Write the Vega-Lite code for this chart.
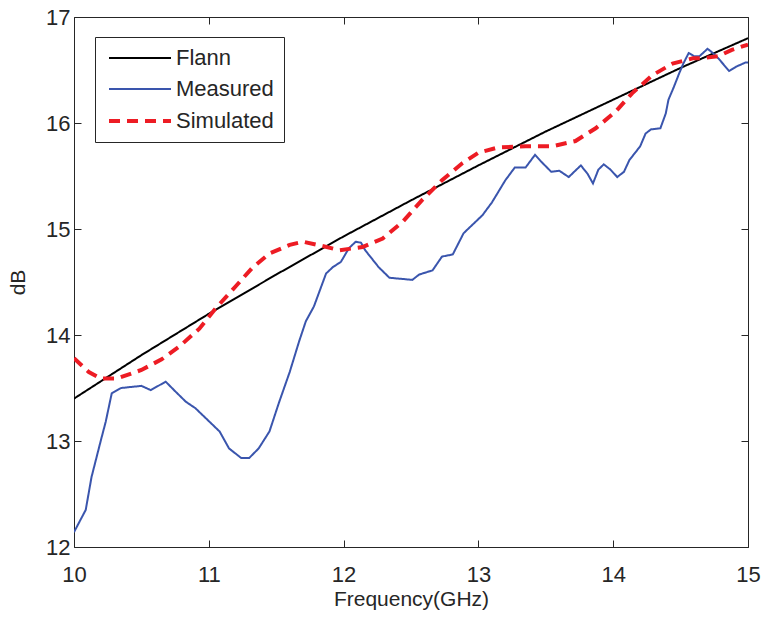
{
  "$schema": "https://vega.github.io/schema/vega-lite/v6.json",
  "autosize": "none",
  "width": 674,
  "height": 530,
  "padding": {"left": 74, "top": 17, "right": 17, "bottom": 76},
  "background": "white",
  "config": {
    "view": {"stroke": "#262626", "strokeWidth": 1},
    "font": "Liberation Sans",
    "axis": {
      "grid": false, "domain": false, "tickColor": "#262626", "tickSize": -7, "labelFlush": false,
      "labelColor": "#262626", "labelFont": "Liberation Sans", "labelFontSize": 22,
      "titleColor": "#262626", "titleFont": "Liberation Sans", "titleFontSize": 21, "titleFontWeight": "normal"
    }
  },
  "data": {
    "values": [
      {"series": "Flann", "f": 10.0, "v": 13.40}, {"series": "Flann", "f": 10.5, "v": 13.81}, {"series": "Flann", "f": 11.0, "v": 14.20}, {"series": "Flann", "f": 11.5, "v": 14.57},
      {"series": "Flann", "f": 12.0, "v": 14.93}, {"series": "Flann", "f": 12.5, "v": 15.27}, {"series": "Flann", "f": 13.0, "v": 15.60}, {"series": "Flann", "f": 13.5, "v": 15.92},
      {"series": "Flann", "f": 14.0, "v": 16.22}, {"series": "Flann", "f": 14.5, "v": 16.52}, {"series": "Flann", "f": 15.0, "v": 16.80},
      {"series": "Measured", "f": 10.0, "v": 12.14}, {"series": "Measured", "f": 10.087, "v": 12.35}, {"series": "Measured", "f": 10.13, "v": 12.66}, {"series": "Measured", "f": 10.2, "v": 13.01},
      {"series": "Measured", "f": 10.235, "v": 13.18}, {"series": "Measured", "f": 10.28, "v": 13.45}, {"series": "Measured", "f": 10.35, "v": 13.5}, {"series": "Measured", "f": 10.5, "v": 13.52},
      {"series": "Measured", "f": 10.57, "v": 13.48}, {"series": "Measured", "f": 10.68, "v": 13.56}, {"series": "Measured", "f": 10.75, "v": 13.47}, {"series": "Measured", "f": 10.83, "v": 13.37},
      {"series": "Measured", "f": 10.9, "v": 13.31}, {"series": "Measured", "f": 11.08, "v": 13.09}, {"series": "Measured", "f": 11.15, "v": 12.93}, {"series": "Measured", "f": 11.24, "v": 12.84},
      {"series": "Measured", "f": 11.3, "v": 12.84}, {"series": "Measured", "f": 11.37, "v": 12.93}, {"series": "Measured", "f": 11.45, "v": 13.09}, {"series": "Measured", "f": 11.52, "v": 13.36},
      {"series": "Measured", "f": 11.6, "v": 13.65}, {"series": "Measured", "f": 11.67, "v": 13.94}, {"series": "Measured", "f": 11.72, "v": 14.13}, {"series": "Measured", "f": 11.78, "v": 14.27},
      {"series": "Measured", "f": 11.87, "v": 14.58}, {"series": "Measured", "f": 11.92, "v": 14.64}, {"series": "Measured", "f": 11.98, "v": 14.69}, {"series": "Measured", "f": 12.04, "v": 14.82},
      {"series": "Measured", "f": 12.09, "v": 14.88}, {"series": "Measured", "f": 12.13, "v": 14.87}, {"series": "Measured", "f": 12.16, "v": 14.8}, {"series": "Measured", "f": 12.26, "v": 14.64},
      {"series": "Measured", "f": 12.34, "v": 14.54}, {"series": "Measured", "f": 12.51, "v": 14.52}, {"series": "Measured", "f": 12.56, "v": 14.57}, {"series": "Measured", "f": 12.66, "v": 14.61},
      {"series": "Measured", "f": 12.73, "v": 14.74}, {"series": "Measured", "f": 12.81, "v": 14.76}, {"series": "Measured", "f": 12.89, "v": 14.96}, {"series": "Measured", "f": 13.03, "v": 15.13},
      {"series": "Measured", "f": 13.1, "v": 15.25}, {"series": "Measured", "f": 13.2, "v": 15.46}, {"series": "Measured", "f": 13.27, "v": 15.58}, {"series": "Measured", "f": 13.35, "v": 15.58},
      {"series": "Measured", "f": 13.42, "v": 15.7}, {"series": "Measured", "f": 13.47, "v": 15.63}, {"series": "Measured", "f": 13.54, "v": 15.54}, {"series": "Measured", "f": 13.6, "v": 15.55},
      {"series": "Measured", "f": 13.67, "v": 15.49}, {"series": "Measured", "f": 13.76, "v": 15.6}, {"series": "Measured", "f": 13.81, "v": 15.52}, {"series": "Measured", "f": 13.85, "v": 15.43},
      {"series": "Measured", "f": 13.89, "v": 15.56}, {"series": "Measured", "f": 13.93, "v": 15.61}, {"series": "Measured", "f": 13.98, "v": 15.56}, {"series": "Measured", "f": 14.03, "v": 15.49},
      {"series": "Measured", "f": 14.08, "v": 15.54}, {"series": "Measured", "f": 14.12, "v": 15.65}, {"series": "Measured", "f": 14.2, "v": 15.78}, {"series": "Measured", "f": 14.24, "v": 15.9},
      {"series": "Measured", "f": 14.28, "v": 15.94}, {"series": "Measured", "f": 14.35, "v": 15.95}, {"series": "Measured", "f": 14.39, "v": 16.09}, {"series": "Measured", "f": 14.41, "v": 16.22},
      {"series": "Measured", "f": 14.45, "v": 16.34}, {"series": "Measured", "f": 14.49, "v": 16.47}, {"series": "Measured", "f": 14.52, "v": 16.56}, {"series": "Measured", "f": 14.56, "v": 16.66},
      {"series": "Measured", "f": 14.6, "v": 16.63}, {"series": "Measured", "f": 14.64, "v": 16.63}, {"series": "Measured", "f": 14.7, "v": 16.7}, {"series": "Measured", "f": 14.73, "v": 16.67},
      {"series": "Measured", "f": 14.78, "v": 16.61}, {"series": "Measured", "f": 14.86, "v": 16.49}, {"series": "Measured", "f": 14.91, "v": 16.53}, {"series": "Measured", "f": 14.98, "v": 16.57},
      {"series": "Measured", "f": 15.0, "v": 16.57},
      {"series": "Simulated", "f": 10.0, "v": 13.78}, {"series": "Simulated", "f": 10.11, "v": 13.65}, {"series": "Simulated", "f": 10.2, "v": 13.59}, {"series": "Simulated", "f": 10.32, "v": 13.59},
      {"series": "Simulated", "f": 10.5, "v": 13.67}, {"series": "Simulated", "f": 10.65, "v": 13.77}, {"series": "Simulated", "f": 10.78, "v": 13.89}, {"series": "Simulated", "f": 10.93, "v": 14.06},
      {"series": "Simulated", "f": 11.05, "v": 14.25}, {"series": "Simulated", "f": 11.2, "v": 14.46}, {"series": "Simulated", "f": 11.32, "v": 14.63}, {"series": "Simulated", "f": 11.45, "v": 14.77},
      {"series": "Simulated", "f": 11.6, "v": 14.85}, {"series": "Simulated", "f": 11.7, "v": 14.88}, {"series": "Simulated", "f": 11.84, "v": 14.84}, {"series": "Simulated", "f": 11.97, "v": 14.8},
      {"series": "Simulated", "f": 12.14, "v": 14.83}, {"series": "Simulated", "f": 12.29, "v": 14.91}, {"series": "Simulated", "f": 12.44, "v": 15.07}, {"series": "Simulated", "f": 12.58, "v": 15.27},
      {"series": "Simulated", "f": 12.73, "v": 15.46}, {"series": "Simulated", "f": 12.88, "v": 15.62}, {"series": "Simulated", "f": 13.0, "v": 15.72}, {"series": "Simulated", "f": 13.15, "v": 15.77},
      {"series": "Simulated", "f": 13.35, "v": 15.78}, {"series": "Simulated", "f": 13.55, "v": 15.78}, {"series": "Simulated", "f": 13.72, "v": 15.83}, {"series": "Simulated", "f": 13.87, "v": 15.95},
      {"series": "Simulated", "f": 14.02, "v": 16.11}, {"series": "Simulated", "f": 14.14, "v": 16.28}, {"series": "Simulated", "f": 14.29, "v": 16.45}, {"series": "Simulated", "f": 14.44, "v": 16.56},
      {"series": "Simulated", "f": 14.59, "v": 16.61}, {"series": "Simulated", "f": 14.65, "v": 16.61}, {"series": "Simulated", "f": 14.78, "v": 16.63}, {"series": "Simulated", "f": 14.88, "v": 16.69},
      {"series": "Simulated", "f": 15.0, "v": 16.74}
    ]
  },
  "resolve": {"axis": {"x": "independent", "y": "independent"}},
  "layer": [
    {
      "mark": {"type": "line", "clip": true},
      "encoding": {
        "x": {"field": "f", "type": "quantitative", "scale": {"domain": [10, 15], "nice": false, "zero": false},
              "axis": {"title": "Frequency(GHz)", "values": [10, 11, 12, 13, 14, 15], "format": "d", "labelPadding": 24, "titlePadding": 3}},
        "y": {"field": "v", "type": "quantitative", "scale": {"domain": [12, 17], "nice": false, "zero": false},
              "axis": {"title": "dB", "values": [12, 13, 14, 15, 16, 17], "format": "d", "labelPadding": 11, "titlePadding": 17}},
        "color": {"field": "series", "type": "nominal",
                  "scale": {"domain": ["Flann", "Measured", "Simulated"], "range": ["#000000", "#3a55ad", "#ed1c24"]},
                  "legend": {"title": null, "orient": "none", "legendX": 21, "legendY": 20,
                             "symbolType": "M-3.1,0H3.1", "symbolSize": 400, "symbolStrokeWidth": 3, "symbolOffset": 23,
                             "labelFont": "Liberation Sans", "labelFontSize": 22, "labelColor": "#262626", "labelOffset": 24,
                             "rowPadding": 9, "padding": 10, "strokeColor": "#262626", "fillColor": "white", "cornerRadius": 0}},
        "strokeDash": {"field": "series", "type": "nominal",
                       "scale": {"domain": ["Flann", "Measured", "Simulated"], "range": [[1, 0], [1, 0], [11, 7]]},
                       "legend": null},
        "strokeWidth": {"field": "series", "type": "nominal",
                        "scale": {"type": "ordinal", "domain": ["Flann", "Measured", "Simulated"], "range": [2, 2, 4]},
                        "legend": null}
      }
    },
    {
      "mark": {"type": "line", "opacity": 0, "clip": true},
      "transform": [{"filter": "datum.series === 'Flann'"}],
      "encoding": {
        "x": {"field": "f", "type": "quantitative",
              "axis": {"orient": "top", "title": null, "labels": false, "values": [10, 11, 12, 13, 14, 15]}},
        "y": {"field": "v", "type": "quantitative",
              "axis": {"orient": "right", "title": null, "labels": false, "values": [12, 13, 14, 15, 16, 17]}}
      }
    }
  ]
}
